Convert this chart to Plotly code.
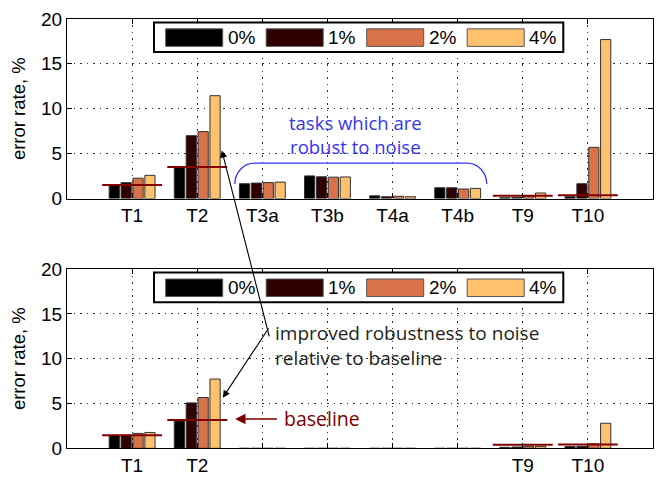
import plotly.graph_objects as go

W, H = 672, 489

tasks = ["T1", "T2", "T3a", "T3b", "T4a", "T4b", "T9", "T10"]
tasks_bottom_labels = ["T1", "T2", "", "", "", "", "T9", "T10"]
noise_levels = ["0%", "1%", "2%", "4%"]
colors = ["#000000", "#2e0000", "#d87248", "#fec26e"]

# top panel: error rate (%) per task at each noise level
top_0 = [1.45, 3.5, 1.65, 2.52, 0.3, 1.2, 0.1, 0.2]
top_1 = [1.77, 7.0, 1.72, 2.42, 0.2, 1.2, 0.12, 1.65]
top_2 = [2.27, 7.45, 1.78, 2.38, 0.25, 1.06, 0.25, 5.7]
top_4 = [2.58, 11.45, 1.83, 2.4, 0.2, 1.13, 0.62, 17.7]
top_baseline = [1.5, 3.5, None, None, None, None, 0.32, 0.38]

# bottom panel
bot_0 = [1.45, 3.05, 0, 0, 0, 0, 0.12, 0.2]
bot_1 = [1.45, 5.07, 0, 0, 0, 0, 0.15, 0.22]
bot_2 = [1.67, 5.67, 0, 0, 0, 0, 0.22, 0.5]
bot_4 = [1.77, 7.73, 0, 0, 0, 0, 0.22, 2.8]
bot_baseline = [1.46, 3.16, None, None, None, None, 0.39, 0.43]

yticks = [0, 5, 10, 15, 20]

xpos = list(range(len(tasks)))

# layout geometry (pixels)
AX_L, AX_R = 67, 653
TOP_T, TOP_B = 9.3, 197
BOT_T, BOT_B = 270.7, 458


def px(x):
    return x / W


def py(y):
    return 1 - y / H


FONT = "Liberation Sans, Arial, Helvetica, sans-serif"
AFONT = "Open Sans, Noto Sans, sans-serif"

fig = go.Figure()

panels = [
    ("x", "y", [top_0, top_1, top_2, top_4], top_baseline),
    ("x2", "y2", [bot_0, bot_1, bot_2, bot_4], bot_baseline),
]

for xa, ya, series, base in panels:
    for name, vals, col in zip(noise_levels, series, colors):
        fig.add_trace(go.Bar(
            x=xpos, y=vals, name=name, xaxis=xa, yaxis=ya,
            marker=dict(color=col, line=dict(color="#333333", width=1)),
            showlegend=False,
        ))
    bx, by = [], []
    for i, b in enumerate(base):
        if b is None:
            continue
        bx += [i - 0.46, i + 0.46, None]
        by += [b, b, None]
    fig.add_trace(go.Scatter(
        x=bx, y=by, mode="lines", xaxis=xa, yaxis=ya,
        line=dict(color="#800000", width=2), showlegend=False,
        hoverinfo="skip",
    ))

axis_common = dict(
    showline=True, linecolor="black", linewidth=1.3, mirror="ticks",
    ticks="inside", ticklen=5, tickcolor="black", tickwidth=1,
    showgrid=True, gridcolor="#333333", gridwidth=1, griddash="1.5px,5px",
    zeroline=False, tickfont=dict(family=FONT, size=19, color="black"),
)

fig.update_layout(
    width=W, height=H,
    margin=dict(l=0, r=0, t=0, b=0),
    paper_bgcolor="white", plot_bgcolor="white",
    barmode="group", bargap=0.27, bargroupgap=0.14,
    xaxis=dict(domain=[px(AX_L), px(AX_R)], range=[-1, 8], tickvals=xpos,
               ticktext=tasks, anchor="y", **axis_common),
    yaxis=dict(domain=[py(TOP_B), py(TOP_T)], range=[0, 20], tickvals=yticks,
               anchor="x",
               title=dict(text="error rate, %", font=dict(family=FONT, size=18.5, color="black"), standoff=10),
               **axis_common),
    xaxis2=dict(domain=[px(AX_L), px(AX_R)], range=[-1, 8], tickvals=xpos,
                ticktext=tasks_bottom_labels, anchor="y2", **axis_common),
    yaxis2=dict(domain=[py(BOT_B), py(BOT_T)], range=[0, 20], tickvals=yticks,
                anchor="x2",
                title=dict(text="error rate, %", font=dict(family=FONT, size=18.5, color="black"), standoff=10),
                **axis_common),
)

# manual legends (wide swatches as in the original)
shapes = []
annotations = []
for top in (TOP_T, BOT_T):
    box_t = top + 3.7
    shapes.append(dict(type="rect", xref="paper", yref="paper",
                       x0=px(154), x1=px(563.3), y0=py(box_t + 31), y1=py(box_t),
                       line=dict(color="black", width=2), fillcolor="white", layer="above"))
    for i, (name, col) in enumerate(zip(noise_levels, colors)):
        sx = 165.7 + i * 100.5
        shapes.append(dict(type="rect", xref="paper", yref="paper",
                           x0=px(sx), x1=px(sx + 57), y0=py(box_t + 25), y1=py(box_t + 6.7),
                           line=dict(color="#555555", width=1), fillcolor=col, layer="above"))
        annotations.append(dict(xref="paper", yref="paper", x=px(sx + 60), y=py(box_t + 16),
                                text=name, showarrow=False, xanchor="left", yanchor="middle",
                                font=dict(family=FONT, size=19, color="black")))

# blue bracket over the robust tasks (top panel data coords)
xl, xr, yb, yt, rx = 1.578, 5.446, 1.63, 3.94, 0.3
k = 0.552
ry = yt - yb
path = (f"M {xl},{yb} C {xl},{yb + k * ry} {xl + rx - k * rx},{yt} {xl + rx},{yt} "
        f"L {xr - rx},{yt} C {xr - rx + k * rx},{yt} {xr},{yb + k * ry} {xr},{yb}")
shapes.append(dict(type="path", xref="x", yref="y", path=path,
                   line=dict(color="#3535f5", width=1.3)))

annotations.append(dict(xref="x", yref="y", x=3.43, y=7.15,
                        text="tasks which are<br>robust to noise", showarrow=False,
                        xanchor="center", yanchor="middle", align="center",
                        font=dict(family=AFONT, size=18.5, color="#3535f5")))

annotations.append(dict(xref="x2", yref="y2", x=2.17, y=11.5,
                        text="improved robustness to noise<br>relative to baseline", showarrow=False,
                        xanchor="left", yanchor="middle", align="left",
                        font=dict(family=AFONT, size=19, color="#231f20")))

# black arrows from a common vertex to T2 4% bars
annotations.append(dict(xref="x", yref="y", x=1.378, y=5.35, ax=47.8, ay=187.3,
                        text="", showarrow=True, arrowhead=2, arrowsize=1.3,
                        arrowwidth=1.1, arrowcolor="black", standoff=0))
annotations.append(dict(xref="x2", yref="y2", x=1.393, y=5.65, ax=46.8, ay=-71,
                        text="", showarrow=True, arrowhead=2, arrowsize=1.3,
                        arrowwidth=1.1, arrowcolor="black", standoff=0))

# baseline label with arrow
annotations.append(dict(xref="x2", yref="y2", x=1.582, y=3.27, ax=43.3, ay=0,
                        text="", showarrow=True, arrowhead=2, arrowsize=1.3,
                        arrowwidth=1.6, arrowcolor="#7a0000", standoff=0))
annotations.append(dict(xref="x2", yref="y2", x=2.3, y=3.3,
                        text="baseline", showarrow=False, xanchor="left", yanchor="middle",
                        font=dict(family=AFONT, size=19.5, color="#7a0000")))

fig.update_layout(shapes=shapes, annotations=annotations)

fig.write_html("out.html")
